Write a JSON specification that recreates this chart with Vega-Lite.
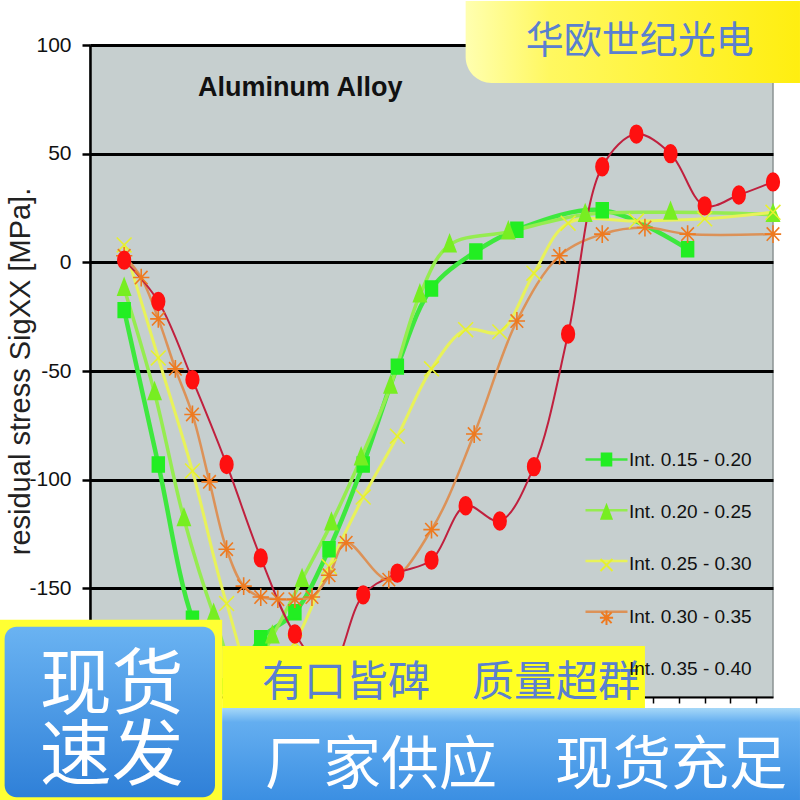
{
  "$schema": "https://vega.github.io/schema/vega-lite/v6.json",
  "width": 683,
  "height": 652,
  "autosize": {"type": "none"},
  "padding": {"left": 90, "top": 45, "right": 27, "bottom": 103},
  "background": "#ffffff",
  "title": {
    "text": "Aluminum Alloy",
    "anchor": "start",
    "frame": "group",
    "orient": "top",
    "baseline": "top",
    "offset": -23,
    "dx": 108,
    "dy": 78,
    "font": "Liberation Sans, Arial, sans-serif",
    "fontSize": 27,
    "fontWeight": "bold",
    "color": "#111111"
  },
  "config": {
    "view": {"fill": "#c6cfcf", "stroke": "#8c9494", "strokeWidth": 1.5},
    "legend": {
      "title": null,
      "orient": "none",
      "legendX": 507,
      "legendY": 405,
      "padding": 0,
      "symbolSize": 144,
      "symbolStrokeWidth": 2,
      "labelFont": "Liberation Sans, Arial, sans-serif",
      "labelFontSize": 19,
      "labelColor": "#111111",
      "labelOffset": 13,
      "labelLimit": 300,
      "rowPadding": 30.75
    }
  },
  "datasets": {
    "stress": [
      {"series": "Int. 0.15 - 0.20", "x": 1, "y": -22},
      {"series": "Int. 0.15 - 0.20", "x": 2, "y": -93},
      {"series": "Int. 0.15 - 0.20", "x": 3, "y": -164},
      {"series": "Int. 0.15 - 0.20", "x": 4, "y": -195},
      {"series": "Int. 0.15 - 0.20", "x": 5, "y": -173},
      {"series": "Int. 0.15 - 0.20", "x": 6, "y": -161},
      {"series": "Int. 0.15 - 0.20", "x": 7, "y": -132},
      {"series": "Int. 0.15 - 0.20", "x": 8, "y": -93},
      {"series": "Int. 0.15 - 0.20", "x": 9, "y": -48},
      {"series": "Int. 0.15 - 0.20", "x": 10, "y": -12},
      {"series": "Int. 0.15 - 0.20", "x": 11.3, "y": 5},
      {"series": "Int. 0.15 - 0.20", "x": 12.5, "y": 15},
      {"series": "Int. 0.15 - 0.20", "x": 15, "y": 24},
      {"series": "Int. 0.15 - 0.20", "x": 17.5, "y": 6},

      {"series": "Int. 0.20 - 0.25", "x": 1.0, "y": -12},
      {"series": "Int. 0.20 - 0.25", "x": 1.89, "y": -60},
      {"series": "Int. 0.20 - 0.25", "x": 2.75, "y": -118},
      {"series": "Int. 0.20 - 0.25", "x": 3.62, "y": -162},
      {"series": "Int. 0.20 - 0.25", "x": 4.48, "y": -195},
      {"series": "Int. 0.20 - 0.25", "x": 5.34, "y": -172},
      {"series": "Int. 0.20 - 0.25", "x": 6.21, "y": -146},
      {"series": "Int. 0.20 - 0.25", "x": 7.07, "y": -120},
      {"series": "Int. 0.20 - 0.25", "x": 7.94, "y": -90},
      {"series": "Int. 0.20 - 0.25", "x": 8.8, "y": -57},
      {"series": "Int. 0.20 - 0.25", "x": 9.66, "y": -15},
      {"series": "Int. 0.20 - 0.25", "x": 10.53, "y": 8},
      {"series": "Int. 0.20 - 0.25", "x": 12.25, "y": 14},
      {"series": "Int. 0.20 - 0.25", "x": 14.5, "y": 22},
      {"series": "Int. 0.20 - 0.25", "x": 17.0, "y": 23},
      {"series": "Int. 0.20 - 0.25", "x": 20, "y": 22},

      {"series": "Int. 0.25 - 0.30", "x": 1, "y": 8},
      {"series": "Int. 0.25 - 0.30", "x": 2, "y": -44},
      {"series": "Int. 0.25 - 0.30", "x": 3, "y": -96},
      {"series": "Int. 0.25 - 0.30", "x": 4, "y": -157},
      {"series": "Int. 0.25 - 0.30", "x": 5, "y": -198},
      {"series": "Int. 0.25 - 0.30", "x": 6, "y": -175},
      {"series": "Int. 0.25 - 0.30", "x": 7, "y": -140},
      {"series": "Int. 0.25 - 0.30", "x": 8, "y": -108},
      {"series": "Int. 0.25 - 0.30", "x": 9, "y": -80},
      {"series": "Int. 0.25 - 0.30", "x": 10, "y": -49},
      {"series": "Int. 0.25 - 0.30", "x": 11, "y": -31},
      {"series": "Int. 0.25 - 0.30", "x": 12, "y": -32},
      {"series": "Int. 0.25 - 0.30", "x": 13, "y": -5},
      {"series": "Int. 0.25 - 0.30", "x": 14, "y": 18},
      {"series": "Int. 0.25 - 0.30", "x": 16, "y": 19},
      {"series": "Int. 0.25 - 0.30", "x": 18, "y": 20},
      {"series": "Int. 0.25 - 0.30", "x": 20, "y": 23},

      {"series": "Int. 0.30 - 0.35", "x": 1, "y": 3},
      {"series": "Int. 0.30 - 0.35", "x": 1.5, "y": -7},
      {"series": "Int. 0.30 - 0.35", "x": 2, "y": -26},
      {"series": "Int. 0.30 - 0.35", "x": 2.5, "y": -49},
      {"series": "Int. 0.30 - 0.35", "x": 3, "y": -70},
      {"series": "Int. 0.30 - 0.35", "x": 3.5, "y": -101},
      {"series": "Int. 0.30 - 0.35", "x": 4, "y": -132},
      {"series": "Int. 0.30 - 0.35", "x": 4.5, "y": -149},
      {"series": "Int. 0.30 - 0.35", "x": 5, "y": -154},
      {"series": "Int. 0.30 - 0.35", "x": 5.5, "y": -155},
      {"series": "Int. 0.30 - 0.35", "x": 6, "y": -155},
      {"series": "Int. 0.30 - 0.35", "x": 6.5, "y": -154},
      {"series": "Int. 0.30 - 0.35", "x": 7, "y": -144},
      {"series": "Int. 0.30 - 0.35", "x": 7.5, "y": -129},
      {"series": "Int. 0.30 - 0.35", "x": 8.75, "y": -146},
      {"series": "Int. 0.30 - 0.35", "x": 10, "y": -123},
      {"series": "Int. 0.30 - 0.35", "x": 11.25, "y": -79},
      {"series": "Int. 0.30 - 0.35", "x": 12.5, "y": -27},
      {"series": "Int. 0.30 - 0.35", "x": 13.75, "y": 3},
      {"series": "Int. 0.30 - 0.35", "x": 15, "y": 13},
      {"series": "Int. 0.30 - 0.35", "x": 16.25, "y": 16},
      {"series": "Int. 0.30 - 0.35", "x": 17.5, "y": 13},
      {"series": "Int. 0.30 - 0.35", "x": 20, "y": 13},

      {"series": "Int. 0.35 - 0.40", "x": 1, "y": 1},
      {"series": "Int. 0.35 - 0.40", "x": 2, "y": -18},
      {"series": "Int. 0.35 - 0.40", "x": 3, "y": -54},
      {"series": "Int. 0.35 - 0.40", "x": 4, "y": -93},
      {"series": "Int. 0.35 - 0.40", "x": 5, "y": -136},
      {"series": "Int. 0.35 - 0.40", "x": 6, "y": -171},
      {"series": "Int. 0.35 - 0.40", "x": 7, "y": -188},
      {"series": "Int. 0.35 - 0.40", "x": 8, "y": -153},
      {"series": "Int. 0.35 - 0.40", "x": 9, "y": -143},
      {"series": "Int. 0.35 - 0.40", "x": 10, "y": -137},
      {"series": "Int. 0.35 - 0.40", "x": 11, "y": -112},
      {"series": "Int. 0.35 - 0.40", "x": 12, "y": -119},
      {"series": "Int. 0.35 - 0.40", "x": 13, "y": -94},
      {"series": "Int. 0.35 - 0.40", "x": 14, "y": -33},
      {"series": "Int. 0.35 - 0.40", "x": 15, "y": 44},
      {"series": "Int. 0.35 - 0.40", "x": 16, "y": 59},
      {"series": "Int. 0.35 - 0.40", "x": 17, "y": 50},
      {"series": "Int. 0.35 - 0.40", "x": 18, "y": 26},
      {"series": "Int. 0.35 - 0.40", "x": 19, "y": 31},
      {"series": "Int. 0.35 - 0.40", "x": 20, "y": 37}
    ]
  },
  "encoding": {
    "x": {
      "field": "x",
      "type": "quantitative",
      "scale": {"domain": [0, 20], "nice": false, "zero": false},
      "axis": {
        "title": null,
        "values": [0.75, 1.5, 2.25, 3, 3.75, 4.5, 5.25, 6, 6.75, 7.5, 8.25, 9, 9.75, 10.5, 11.25, 12, 12.75, 13.5, 14.25, 15, 15.75, 16.5, 17.25, 18, 18.75, 19.5],
        "labels": false,
        "grid": false,
        "domainColor": "#000000",
        "domainWidth": 2,
        "tickColor": "#000000",
        "tickSize": 6,
        "tickWidth": 1.5
      }
    },
    "y": {
      "field": "y",
      "type": "quantitative",
      "scale": {"domain": [-200, 100], "nice": false, "zero": false},
      "axis": {
        "title": "residual stress SigXX [MPa].",
        "values": [-150, -100, -50, 0, 50, 100],
        "labelExpr": "replace(datum.label, '−', '-')",
        "grid": true,
        "gridColor": "#000000",
        "gridWidth": 3,
        "domainColor": "#000000",
        "domainWidth": 2.5,
        "tickColor": "#000000",
        "tickSize": 8,
        "tickWidth": 2.5,
        "labelFont": "Liberation Sans, Arial, sans-serif",
        "labelFontSize": 21,
        "labelColor": "#111111",
        "labelPadding": 11,
        "titleFont": "Liberation Sans, Arial, sans-serif",
        "titleFontSize": 29,
        "titleFontWeight": "normal",
        "titleColor": "#222222",
        "titleX": -70,
        "titleY": 326,
        "titleAngle": 270,
        "titleAlign": "center",
        "titleBaseline": "middle"
      }
    }
  },
  "layer": [
    {
      "data": {"name": "stress"},
      "mark": {"type": "line", "interpolate": "catmull-rom"},
      "encoding": {
        "color": {
          "field": "series",
          "type": "nominal",
          "scale": {
            "domain": ["Int. 0.35 - 0.40", "Int. 0.30 - 0.35", "Int. 0.25 - 0.30", "Int. 0.20 - 0.25", "Int. 0.15 - 0.20"],
            "range": ["#c0203e", "#dc9258", "#e8f25a", "#95ec50", "#3ee83e"]
          },
          "legend": {
            "values": ["Int. 0.15 - 0.20", "Int. 0.20 - 0.25", "Int. 0.25 - 0.30", "Int. 0.30 - 0.35"],
            "labelExpr": "' '",
            "symbolType": "M-3.5,0L3.5,0",
            "symbolStrokeWidth": 2.5
          }
        },
        "strokeWidth": {
          "field": "series",
          "type": "nominal",
          "scale": {
            "type": "ordinal",
            "domain": ["Int. 0.25 - 0.30", "Int. 0.15 - 0.20", "Int. 0.20 - 0.25", "Int. 0.35 - 0.40", "Int. 0.30 - 0.35"],
            "range": [3, 4.5, 3.5, 2, 2.5]
          },
          "legend": {
            "values": ["Int. 0.15 - 0.20", "Int. 0.20 - 0.25", "Int. 0.25 - 0.30", "Int. 0.30 - 0.35", "Int. 0.35 - 0.40"],
            "symbolOpacity": 0,
            "rowPadding": 32.35
          }
        }
      }
    },
    {
      "data": {"name": "stress"},
      "mark": {"type": "point", "filled": true, "opacity": 1, "size": 220, "strokeWidth": 1.6},
      "encoding": {
        "shape": {
          "field": "series",
          "type": "nominal",
          "scale": {
            "domain": ["Int. 0.15 - 0.20", "Int. 0.20 - 0.25", "Int. 0.25 - 0.30", "Int. 0.30 - 0.35", "Int. 0.35 - 0.40"],
            "range": [
              "M-0.8,-1L0.8,-1L0.8,1L-0.8,1Z",
              "M0,-1.3L0.85,0.9L-0.85,0.9Z",
              "M-1,-1L1,1M-1,1L1,-1",
              "M-1.1,0L1.1,0M0,-1.2L0,1.2M-0.85,-0.9L0.85,0.9M-0.85,0.9L0.85,-0.9",
              "M0,-1.2A0.85,1.2 0 1,1 0,1.2A0.85,1.2 0 1,1 0,-1.2Z"
            ]
          },
          "legend": {
            "values": ["Int. 0.15 - 0.20", "Int. 0.20 - 0.25", "Int. 0.25 - 0.30", "Int. 0.30 - 0.35"],
            "labelExpr": "' '"
          }
        },
        "fill": {
          "field": "series",
          "type": "nominal",
          "scale": {
            "domain": ["Int. 0.15 - 0.20", "Int. 0.20 - 0.25", "Int. 0.25 - 0.30", "Int. 0.30 - 0.35", "Int. 0.35 - 0.40"],
            "range": ["#22ee22", "#77ee22", "#eeff44", "#f08020", "#ff1010"]
          },
          "legend": {
            "values": ["Int. 0.15 - 0.20", "Int. 0.20 - 0.25", "Int. 0.25 - 0.30", "Int. 0.30 - 0.35"],
            "labelExpr": "' '"
          }
        },
        "stroke": {
          "field": "series",
          "type": "nominal",
          "scale": {
            "domain": ["Int. 0.15 - 0.20", "Int. 0.20 - 0.25", "Int. 0.25 - 0.30", "Int. 0.30 - 0.35", "Int. 0.35 - 0.40"],
            "range": ["#22ee22", "#77ee22", "#e6f030", "#ee7a20", "#ff1010"]
          },
          "legend": {
            "values": ["Int. 0.15 - 0.20", "Int. 0.20 - 0.25", "Int. 0.25 - 0.30", "Int. 0.30 - 0.35"],
            "labelExpr": "' '"
          }
        }
      }
    },
    {
      "data": {"values": [{"x": 11.0, "x2": 20.79, "y": 120.3, "y2": 82.5}]},
      "mark": {
        "type": "rect",
        "cornerRadiusBottomLeft": 26,
        "fill": {"gradient": "linear", "x1": 0, "y1": 0, "x2": 1, "y2": 0, "stops": [{"offset": 0, "color": "#ffffb0"}, {"offset": 0.25, "color": "#fff860"}, {"offset": 1, "color": "#ffee10"}]}
      },
      "encoding": {"x2": {"field": "x2"}, "y2": {"field": "y2"}}
    },
    {
      "data": {"values": [{"label": "华欧世纪光电", "x": 16.1, "y": 101.2}]},
      "mark": {"type": "text", "font": "Noto Sans CJK SC", "fontSize": 38, "fill": "#5a80cf", "align": "center", "baseline": "middle"},
      "encoding": {"text": {"field": "label"}}
    },
    {
      "data": {"values": [{"x": -2.64, "x2": 3.87, "y": -164.5, "y2": -248.4}]},
      "mark": {"type": "rect", "fill": "#ffff33"},
      "encoding": {"x2": {"field": "x2"}, "y2": {"field": "y2"}}
    },
    {
      "data": {"values": [{"x": -2.5, "x2": 3.66, "y": -167.7, "y2": -246.1}]},
      "mark": {
        "type": "rect",
        "cornerRadius": 12,
        "fill": {"gradient": "linear", "x1": 0, "y1": 0, "x2": 0, "y2": 1, "stops": [{"offset": 0, "color": "#6ab3f2"}, {"offset": 1, "color": "#2f80d8"}]}
      },
      "encoding": {"x2": {"field": "x2"}, "y2": {"field": "y2"}}
    },
    {
      "data": {"values": [{"label": "现货", "x": 0.64, "y": -194.9}, {"label": "速发", "x": 0.64, "y": -227.6}]},
      "mark": {"type": "text", "font": "Noto Sans CJK SC", "fontSize": 72, "fill": "#ffffff", "align": "center", "baseline": "middle"},
      "encoding": {"text": {"field": "label"}}
    },
    {
      "data": {"values": [{"x": 3.87, "x2": 16.25, "y": -176.5, "y2": -205.1}]},
      "mark": {"type": "rect", "fill": "#ffff22"},
      "encoding": {"x2": {"field": "x2"}, "y2": {"field": "y2"}}
    },
    {
      "data": {"values": [{"label": "有口皆碑　质量超群", "x": 10.57, "y": -193.5}]},
      "mark": {"type": "text", "font": "Noto Sans CJK SC", "fontSize": 42, "fill": "#5a80cf", "align": "center", "baseline": "middle"},
      "encoding": {"text": {"field": "label"}}
    },
    {
      "data": {"values": [{"x": 3.87, "x2": 20.79, "y": -205.1, "y2": -248.4}]},
      "mark": {
        "type": "rect",
        "fill": {"gradient": "linear", "x1": 0, "y1": 0, "x2": 0, "y2": 1, "stops": [{"offset": 0, "color": "#a6d8f8"}, {"offset": 0.15, "color": "#64aef0"}, {"offset": 1, "color": "#3a8ee2"}]}
      },
      "encoding": {"x2": {"field": "x2"}, "y2": {"field": "y2"}}
    },
    {
      "data": {"values": [{"label": "厂家供应　现货充足", "x": 12.77, "y": -232.3}]},
      "mark": {"type": "text", "font": "Noto Sans CJK SC", "fontSize": 58, "fill": "#ffffff", "align": "center", "baseline": "middle"},
      "encoding": {"text": {"field": "label"}}
    }
  ]
}
